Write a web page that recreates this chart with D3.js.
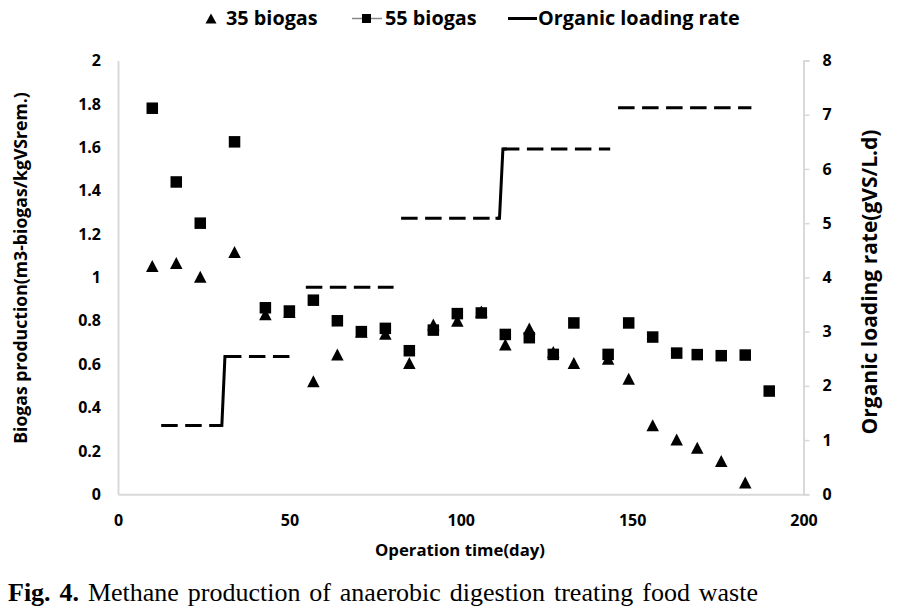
<!DOCTYPE html>
<html><head><meta charset="utf-8">
<script src="https://cdn.jsdelivr.net/npm/d3@7"></script>
<style>body{margin:0;background:#fff}</style>
</head><body><svg id="c" width="900" height="610"></svg>
<script>
const days = [10,17,24,34,43,50,57,64,71,78,85,92,99,106,113,120,127,133,143,149,156,163,169,176,183,190];
const biogas55 = [1.78,1.44,1.25,1.625,0.86,0.845,0.895,0.80,0.75,0.765,0.662,0.757,0.833,0.836,0.737,0.722,0.645,0.79,0.645,0.79,0.725,0.651,0.644,0.639,0.642,0.476];
const biogas35 = [1.052,1.066,1.003,1.117,0.83,0.84,0.521,0.645,0.75,0.74,0.605,0.783,0.80,0.843,0.691,0.764,0.656,0.605,0.625,0.533,0.318,0.253,0.215,0.153,0.054,null];
const olrStart = [12.6,31.2,54.8,82.6,112.3,145.9];
const olrEnd   = [30.3,50.5,80.4,111.3,143.6,184.8];
const olrValue = [1.27,2.54,3.82,5.09,6.37,7.13];
const olrRisers = [0,3];
const xTicks = [0,50,100,150,200];
const yLeftTicks = [0,0.2,0.4,0.6,0.8,1,1.2,1.4,1.6,1.8,2];
const yRightTicks = [0,1,2,3,4,5,6,7,8];
const legendLabels = ["35 biogas","55 biogas","Organic loading rate"];

const svg = d3.select("#c");
const FONT = "'Open Sans', Lato, sans-serif";
const x = d3.scaleLinear().domain([0,200]).range([118,803.5]);
const yL = d3.scaleLinear().domain([0,2]).range([494.3,60.5]);
const yR = d3.scaleLinear().domain([0,8]).range([494.3,60.5]);
const AX = "#d9d9d9";

function fit(sel, w){
  const n = sel.node(); const fs = parseFloat(sel.attr("font-size")) || 16;
  const len = n.getComputedTextLength();
  sel.attr("font-size", fs*w/len);
  return sel;
}

// axes
const TICKFS = 16;
const gx = svg.append("g").attr("transform",`translate(0,${yL(0)})`)
  .call(d3.axisBottom(x).tickValues(xTicks).tickSize(0).tickPadding(23).tickFormat(d3.format("d")));
const gl = svg.append("g").attr("transform",`translate(${x(0)},0)`)
  .call(d3.axisLeft(yL).tickValues(yLeftTicks).tickSize(0).tickPadding(17).tickFormat(d=>d3.format("")(+d.toFixed(1))));
const gr = svg.append("g").attr("transform",`translate(${x(200)},0)`)
  .call(d3.axisRight(yR).tickValues(yRightTicks).tickSize(6).tickPadding(13).tickFormat(d3.format("d")));
[gx,gl,gr].forEach(g=>{
  g.select(".domain").attr("stroke",AX).attr("stroke-width",2);
  g.selectAll(".tick line").attr("stroke",AX).attr("stroke-width",1.5);
  g.selectAll(".tick text").attr("font-family",FONT).attr("font-weight","bold").attr("font-size",TICKFS).attr("fill","#000");
});
gx.selectAll(".tick text").attr("dy","0.55em");

// OLR line: dashed plateaus, solid risers
const lineG = svg.append("g");
olrValue.forEach((v,i)=>{
  lineG.append("line")
    .attr("x1",x(olrStart[i])).attr("x2",x(olrEnd[i]))
    .attr("y1",yR(v)).attr("y2",yR(v))
    .attr("stroke","#000").attr("stroke-width",3)
    .attr("stroke-dasharray","16.5,7.5");
});
olrRisers.forEach(i=>{
  lineG.append("path")
    .attr("d",`M${x(olrEnd[i])-4},${yR(olrValue[i])}H${x(olrEnd[i])}L${x(olrStart[i+1])},${yR(olrValue[i+1])}H${x(olrStart[i+1])+4}`)
    .attr("fill","none").attr("stroke","#000").attr("stroke-width",3);
});

// markers
const tri = (w,h)=>`M0,${-h/2}L${w/2},${h/2}L${-w/2},${h/2}Z`;
svg.append("g").selectAll("path").data(days.map((d,i)=>[d,biogas35[i]]).filter(p=>p[1]!=null))
  .join("path").attr("d",tri(12.5,12))
  .attr("transform",p=>`translate(${x(p[0])},${yL(p[1])})`).attr("fill","#000");
svg.append("g").selectAll("rect").data(days.map((d,i)=>[d,biogas55[i]]))
  .join("rect").attr("width",11.5).attr("height",11.5)
  .attr("x",p=>x(p[0])-5.75).attr("y",p=>yL(p[1])-5.75).attr("fill","#000");

// legend
const lg = svg.append("g").attr("font-family",FONT).attr("font-weight","bold");
lg.append("path").attr("d",tri(11,10)).attr("transform","translate(211,18.5)").attr("fill","#000");
lg.append("text").attr("x",226).attr("y",25).attr("font-size",18).text(legendLabels[0]);
lg.append("line").attr("x1",352).attr("x2",382).attr("y1",18.5).attr("y2",18.5).attr("stroke","#888").attr("stroke-width",1.5);
lg.append("rect").attr("x",362).attr("y",14).attr("width",9).attr("height",9).attr("fill","#000");
lg.append("text").attr("x",385).attr("y",25).attr("font-size",18).text(legendLabels[1]);
lg.append("line").attr("x1",508).attr("x2",537).attr("y1",18.5).attr("y2",18.5).attr("stroke","#000").attr("stroke-width",3);
const t2 = lg.append("text").attr("x",538).attr("y",25).attr("font-size",18).text(legendLabels[2]);
fit(t2, 202);
lg.selectAll("text").attr("font-size", t2.attr("font-size"));

// axis titles
const xt = svg.append("text").attr("x",460).attr("y",556).attr("text-anchor","middle")
  .attr("font-family",FONT).attr("font-weight","bold").attr("font-size",16).text("Operation time(day)");
fit(xt,170);
const lt = svg.append("text").attr("transform","translate(27,268) rotate(-90)").attr("text-anchor","middle")
  .attr("font-family",FONT).attr("font-weight","bold").attr("font-size",16).text("Biogas production(m3-biogas/kgVSrem.)");
fit(lt,352);
const rt = svg.append("text").attr("transform","translate(877,282) rotate(-90)").attr("text-anchor","middle")
  .attr("font-family",FONT).attr("font-weight","bold").attr("font-size",16).text("Organic loading rate(gVS/L.d)");
fit(rt,305);

// caption
const cap = svg.append("text").attr("x",8).attr("y",601).attr("font-family","'Liberation Serif', serif").attr("font-size",26);
cap.append("tspan").attr("font-weight","bold").text("Fig. 4.");
cap.append("tspan").text(" Methane production of anaerobic digestion treating food waste");
const natural = cap.node().getComputedTextLength();
cap.attr("word-spacing", Math.max(0,(750 - natural)/9));
</script></body></html>
